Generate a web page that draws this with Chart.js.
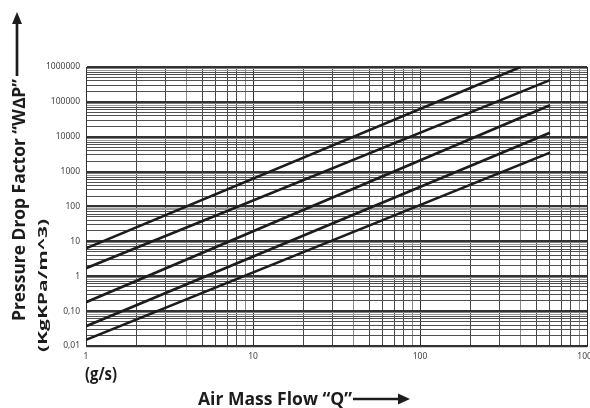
<!DOCTYPE html>
<html>
<head>
<meta charset="utf-8">
<script src="https://cdn.jsdelivr.net/npm/chart.js@4.4.1/dist/chart.umd.min.js"></script>
<style>
  html, body { margin: 0; padding: 0; background: #fff; }
  #wrap { width: 590px; height: 408px; }
</style>
</head>
<body>
<div id="wrap"><canvas id="dpChart" width="590" height="408"></canvas></div>
<script>
// Air mass flow Q (g/s) and pressure drop factor W∆P at the two ends of each curve
const curveAQ = [1, 400];
const curveADP = [6.3, 1000000];
const curveBQ = [1, 600];
const curveBDP = [1.7, 420000];
const curveCQ = [1, 600];
const curveCDP = [0.18, 80000];
const curveDQ = [1, 600];
const curveDDP = [0.037, 13000];
const curveEQ = [1, 600];
const curveEDP = [0.015, 3500];

// Tick labels
const xTickValues = [1, 10, 100, 1000];
const xTickLabels = ['1', '10', '100', '1000'];
const yTickValues = [0.01, 0.1, 1, 10, 100, 1000, 10000, 100000, 1000000];
const yTickLabels = ['0,01', '0,10', '1', '10', '100', '1000', '10000', '100000', '1000000'];

function toPoints(qs, dps) {
    return qs.map((q, i) => ({ x: q, y: dps[i] }));
}

// every 1..9 x 10^k between min and max
function logGridTicks(min, max) {
    const out = [];
    for (let e = Math.round(Math.log10(min)); e < Math.round(Math.log10(max)); e++) {
        for (let m = 1; m < 10; m++) out.push(+(m * Math.pow(10, e)).toPrecision(6));
    }
    out.push(max);
    return out;
}

function isDecade(v) {
    const l = Math.log10(v);
    return Math.abs(l - Math.round(l)) < 1e-6;
}

function mantissa(v) {
    return Math.round(v / Math.pow(10, Math.floor(Math.log10(v) + 1e-9)));
}

const curveStyle = {
    borderColor: '#1c1c1c',
    borderWidth: 2.6,
    pointRadius: 0,
    fill: false,
    tension: 0
};

// Axis titles with arrows, drawn into the margins
const axisTitles = {
    id: 'axisTitles',
    afterDraw(chart) {
        const ctx = chart.ctx;
        ctx.save();
        ctx.fillStyle = '#1c1c1c';
        ctx.strokeStyle = '#1c1c1c';

        function fitText(text, font, x, y, width, rotate) {
            ctx.save();
            ctx.translate(x, y);
            if (rotate) ctx.rotate(-Math.PI / 2);
            ctx.font = font;
            ctx.textBaseline = 'alphabetic';
            ctx.textAlign = 'left';
            const w = ctx.measureText(text).width;
            ctx.scale(width / w, 1);
            ctx.fillText(text, 0, 0);
            ctx.restore();
        }

        // y title, reads bottom to top
        fitText('Pressure Drop Factor \u201CW\u2206P\u201D', 'bold 17px "Open Sans"', 25, 321, 242, true);
        fitText('(KgKPa/m^3)', 'bold 13px "Open Sans"', 47, 352, 133, true);

        // up arrow
        ctx.lineWidth = 2.7;
        ctx.beginPath();
        ctx.moveTo(17, 76);
        ctx.lineTo(17, 20);
        ctx.stroke();
        ctx.beginPath();
        ctx.moveTo(17, 12);
        ctx.lineTo(12, 24);
        ctx.lineTo(22, 24);
        ctx.closePath();
        ctx.fill();

        // x titles
        fitText('(g/s)', 'bold 17px "Open Sans"', 85, 380, 32, false);
        fitText('Air Mass Flow \u201CQ\u201D', 'bold 18px "Open Sans"', 198, 405, 154, false);

        // right arrow
        ctx.beginPath();
        ctx.moveTo(353, 399);
        ctx.lineTo(401, 399);
        ctx.stroke();
        ctx.beginPath();
        ctx.moveTo(410, 399);
        ctx.lineTo(398, 393.5);
        ctx.lineTo(398, 404.5);
        ctx.closePath();
        ctx.fill();

        ctx.restore();
    }
};

const ctx = document.getElementById('dpChart').getContext('2d');
const dpChart = new Chart(ctx, {
    type: 'line',
    data: {
        datasets: [
            { data: toPoints(curveAQ, curveADP), ...curveStyle },
            { data: toPoints(curveBQ, curveBDP), ...curveStyle },
            { data: toPoints(curveCQ, curveCDP), ...curveStyle },
            { data: toPoints(curveDQ, curveDDP), ...curveStyle },
            { data: toPoints(curveEQ, curveEDP), ...curveStyle }
        ]
    },
    options: {
        responsive: false,
        animation: false,
        events: [],
        layout: {
            padding: { top: 67, right: 3, left: 0, bottom: 0 }
        },
        plugins: {
            legend: { display: false },
            tooltip: { enabled: false }
        },
        scales: {
            x: {
                type: 'logarithmic',
                min: 1,
                max: 1000,
                afterBuildTicks(scale) {
                    scale.ticks = logGridTicks(1, 1000).map(v => ({ value: v }));
                },
                afterFit(scale) {
                    scale.height = 62;
                    scale.paddingLeft = 0;
                    scale.paddingRight = 0;
                },
                ticks: {
                    autoSkip: false,
                    maxRotation: 0,
                    padding: 5,
                    color: '#444',
                    font: { family: '"Noto Sans"', size: 8.5 },
                    callback(value) {
                        const i = xTickValues.findIndex(t => Math.abs(t - value) < 1e-9);
                        return i >= 0 ? xTickLabels[i] : '';
                    }
                },
                grid: {
                    drawTicks: false,
                    lineWidth: 1,
                    color(c) {
                        const v = c.tick ? c.tick.value : 1;
                        if (isDecade(v)) return '#2e2e2e';
                        return mantissa(v) === 4 || mantissa(v) === 9 ? '#8a8a8a' : '#474747';
                    }
                },
                border: { display: true, color: '#333', width: 1 }
            },
            y: {
                type: 'logarithmic',
                min: 0.01,
                max: 1000000,
                afterBuildTicks(scale) {
                    scale.ticks = logGridTicks(0.01, 1000000).map(v => ({ value: v }));
                },
                afterFit(scale) {
                    scale.width = 86;
                    scale.paddingTop = 0;
                    scale.paddingBottom = 0;
                },
                ticks: {
                    autoSkip: false,
                    padding: 6,
                    color: '#444',
                    font: { family: '"Noto Sans"', size: 8.5 },
                    callback(value) {
                        const i = yTickValues.findIndex(t => Math.abs(t - value) / t < 1e-6);
                        return i >= 0 ? yTickLabels[i] : '';
                    }
                },
                grid: {
                    drawTicks: false,
                    lineWidth(c) {
                        const v = c.tick ? c.tick.value : 1;
                        return isDecade(v) ? 2.2 : 1;
                    },
                    color(c) {
                        const v = c.tick ? c.tick.value : 1;
                        if (isDecade(v)) return '#333';
                        return mantissa(v) >= 8 ? '#9a9a9a' : '#505050';
                    }
                },
                border: { display: true, color: '#333', width: 1 }
            }
        }
    },
    plugins: [axisTitles]
});
</script>
</body>
</html>
